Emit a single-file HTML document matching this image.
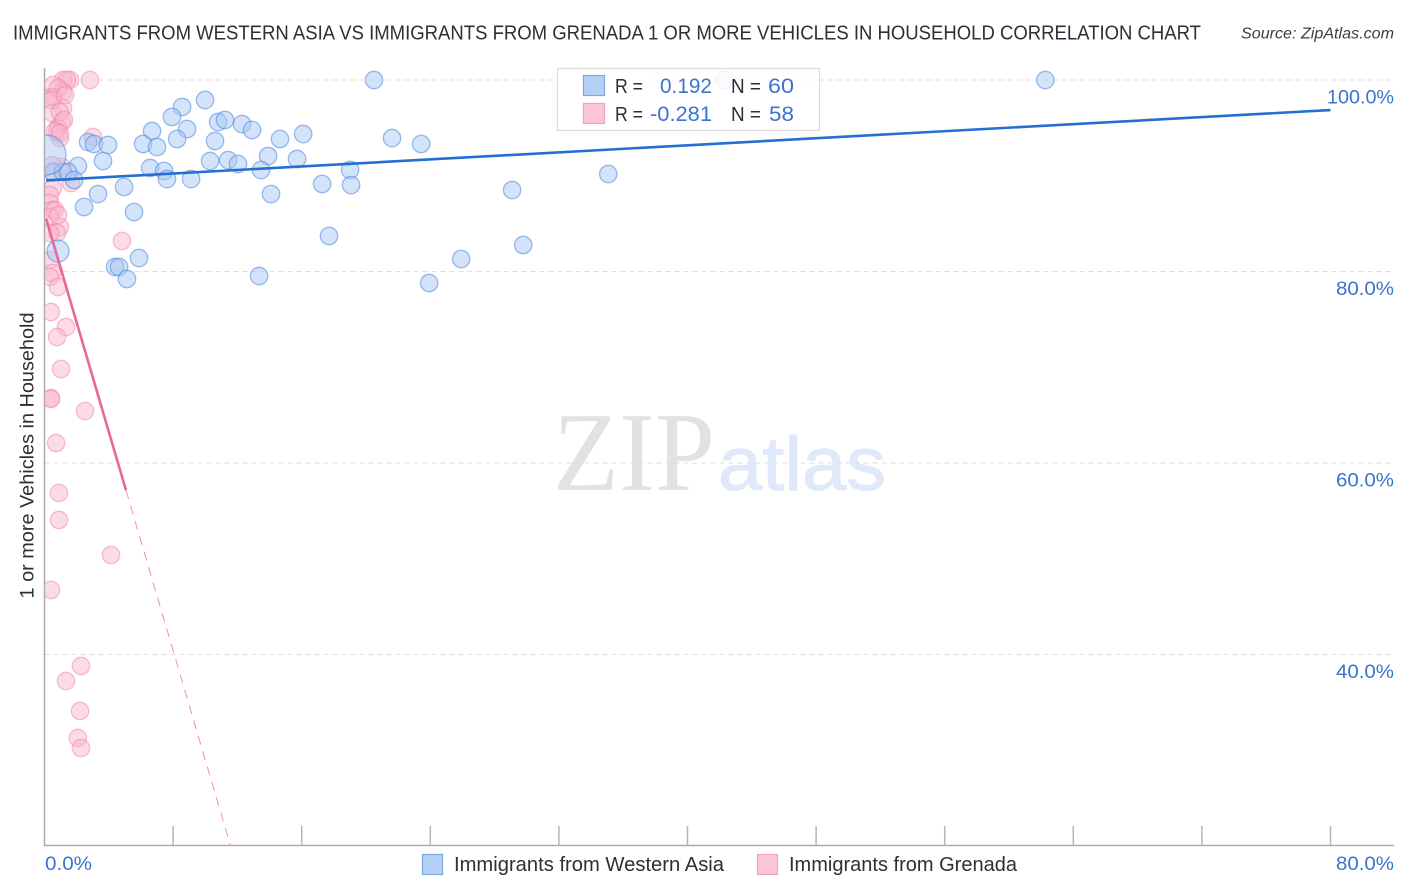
<!DOCTYPE html>
<html lang="en">
<head>
<meta charset="utf-8">
<title>Immigrants from Western Asia vs Immigrants from Grenada correlation chart</title>
<style>
html,body{margin:0;padding:0;background:#fff;}
svg{display:block;font-family:"Liberation Sans",sans-serif;}
</style>
</head>
<body>
<svg id="chart" width="1406" height="892" viewBox="0 0 1406 892" xmlns="http://www.w3.org/2000/svg">
  <defs>
    <clipPath id="plot-clip"><rect x="45" y="60" width="1349" height="785"/></clipPath>
  </defs>
  <rect width="1406" height="892" fill="#fff"/>
  <text x="13" y="39.5" font-size="20" fill="#2b2f38" textLength="1188" lengthAdjust="spacingAndGlyphs">IMMIGRANTS FROM WESTERN ASIA VS IMMIGRANTS FROM GRENADA 1 OR MORE VEHICLES IN HOUSEHOLD CORRELATION CHART</text>
  <text x="1241" y="38.5" font-size="15.5" font-style="italic" fill="#3a3d45" textLength="153" lengthAdjust="spacingAndGlyphs">Source: ZipAtlas.com</text>
  <g id="watermark">
    <text x="553" y="490" font-family="'Liberation Serif',serif" font-size="112" fill="#e2e2e2" textLength="162" lengthAdjust="spacingAndGlyphs">ZIP</text>
    <text x="718" y="490" font-size="76" fill="#dfe9f9" stroke="#dfe9f9" stroke-width="1" textLength="168" lengthAdjust="spacingAndGlyphs">atlas</text>
  </g>
  <g id="grid"></g>
  <g id="axes"></g>
  <g id="points" clip-path="url(#plot-clip)"></g>
  <g id="trends" clip-path="url(#plot-clip)"></g>
  <text transform="translate(33.5,455.5) rotate(-90)" text-anchor="middle" font-size="19.5" fill="#2b2f38" textLength="286" lengthAdjust="spacingAndGlyphs">1 or more Vehicles in Household</text>
  <g id="top-legend">
    <rect x="557.5" y="68.5" width="262" height="62" fill="#fff" fill-opacity="0.85" stroke="#dcdcdc" stroke-width="1.2"/>
    <rect x="583.5" y="75.5" width="21" height="20" fill="#b5d0f5" stroke="#7ea6e0" stroke-width="1.2"/>
    <rect x="583.5" y="103.5" width="21" height="20" fill="#fdc6d8" stroke="#f2a0bb" stroke-width="1.2"/>
    <text x="615" y="93" font-size="20" fill="#2b2f38" textLength="28" lengthAdjust="spacingAndGlyphs">R =</text>
    <text x="660" y="93" font-size="21" fill="#3b73d1" textLength="52" lengthAdjust="spacingAndGlyphs">0.192</text>
    <text x="731" y="93" font-size="20" fill="#2b2f38" textLength="30" lengthAdjust="spacingAndGlyphs">N =</text>
    <text x="768" y="93" font-size="21" fill="#3b73d1" textLength="26" lengthAdjust="spacingAndGlyphs">60</text>
    <text x="615" y="121" font-size="20" fill="#2b2f38" textLength="28" lengthAdjust="spacingAndGlyphs">R =</text>
    <text x="650" y="121" font-size="21" fill="#3b73d1" textLength="62" lengthAdjust="spacingAndGlyphs">-0.281</text>
    <text x="731" y="121" font-size="20" fill="#2b2f38" textLength="30" lengthAdjust="spacingAndGlyphs">N =</text>
    <text x="769" y="121" font-size="21" fill="#3b73d1" textLength="25" lengthAdjust="spacingAndGlyphs">58</text>
  </g>
  <g id="bottom-legend">
    <g>
      <rect x="422.5" y="854.5" width="20" height="20" fill="#b5d0f5" stroke="#7ea6e0" stroke-width="1.2"/>
      <text x="454" y="871" font-size="20" fill="#2b2f38" textLength="270" lengthAdjust="spacingAndGlyphs">Immigrants from Western Asia</text>
    </g>
    <g>
      <rect x="757.5" y="854.5" width="20" height="20" fill="#fdc6d8" stroke="#f2a0bb" stroke-width="1.2"/>
      <text x="789" y="871" font-size="20" fill="#2b2f38" textLength="228" lengthAdjust="spacingAndGlyphs">Immigrants from Grenada</text>
    </g>
  </g>
</svg>
<script>
var xTickValues = [0, 8, 16, 24, 32, 40, 48, 56, 64, 72, 80];
var yGridValues = [100, 80, 60, 40];
var yTickLabels = ["100.0%", "80.0%", "60.0%", "40.0%"];
var xEndLabels = ["0.0%", "80.0%"];

var blueX = [20.5,62.26,42.35,9.99,8.56,7.93,10.8,11.23,12.29,12.91,6.69,8.87,8.25,6.13,7.0,10.61,2.71,3.08,3.95,14.65,16.09,21.62,23.43,13.91,15.71,10.3,11.42,12.04,13.47,3.64,2.08,6.57,7.44,7.62,9.12,19.01,17.27,19.07,29.09,35.07,0.53,1.15,1.46,1.84,4.95,3.33,2.46,5.57,14.09,17.7,29.78,25.92,5.88,4.39,4.64,5.13,13.35,23.93,0.84,0.09];
var blueY = [100,100,100,97.91,97.18,96.14,95.61,95.82,95.4,94.78,94.67,94.88,93.84,93.32,93.0,93.63,93.52,93.32,93.21,93.84,94.36,93.94,93.32,92.06,91.75,91.54,91.64,91.23,90.6,91.54,91.02,90.81,90.5,89.66,89.66,90.6,89.14,89.03,88.51,90.18,90.39,90.39,90.39,89.56,88.83,88.09,86.74,86.21,88.09,83.71,82.77,81.31,81.41,80.47,80.47,79.22,79.53,78.8,82.14,92.17];
var blueWeight = [1,1,1,1,1,1,1,1,1,1,1,1,1,1,1,1,1,1,1,1,1,1,1,1,1,1,1,1,1,1,1,1,1,1,1,1,1,1,1,1,1,1,1,1,1,1,1,1,1,1,1,1,1,1,1,1,1,1,1.6,5.3];

var pinkX = [2.83,1.59,1.15,1.4,0.53,1.15,0.59,0.47,1.15,0.47,1.09,0.84,0.78,0.96,3.02,1.09,0.53,1.65,0.53,0.34,0.34,0.47,0.65,0.34,0.96,0.78,0.34,4.82,0.34,0.47,0.34,0.84,0.4,1.34,0.78,1.03,2.52,0.4,0.4,0.72,0.9,0.9,4.14,0.4,2.27,1.34,2.21,2.08,2.27,0.84,0.47,1.28,0.96,1.21,0.65,0.96,0.47,0.84];
var pinkY = [100,100,100,100,99.48,98.75,98.22,98.22,97.08,96.55,95.61,94.99,94.57,93.94,94.05,90.91,90.39,89.24,88.72,87.99,87.15,86.42,86.42,85.69,84.65,84.02,84.02,83.19,81.2,79.84,79.43,78.38,75.77,74.2,73.16,69.82,65.43,66.79,66.68,62.09,56.87,54.05,50.39,46.74,38.8,37.23,34.1,31.28,30.23,99.16,97.91,98.43,96.66,95.82,94.67,94.46,91.12,85.9];

var blueTrendIntercept = 89.5;
var blueTrendSlope = 0.092;
var blueTrendEnd = 80;
var pinkTrendIntercept = 86.1;
var pinkTrendSlope = -5.71;
var pinkSolidEnd = 5.07;
var pinkDashedEnd = 11.6;

var SVGNS = "http://www.w3.org/2000/svg";
function xScale(v) { return 44.5 + v * (1330.5 - 44.5) / 80; }
function yScale(v) { return 80 + (100 - v) * (654.5 - 80) / 60; }
function make(tag, parent, attrs) {
  var el = document.createElementNS(SVGNS, tag);
  for (var k in attrs) { el.setAttribute(k, attrs[k]); }
  parent.appendChild(el);
  return el;
}
var gridG = document.getElementById("grid");
var axesG = document.getElementById("axes");
var pointsG = document.getElementById("points");
var trendsG = document.getElementById("trends");

yGridValues.forEach(function (v, i) {
  var line = make("line", gridG, {x1: 44.5, x2: 1394, y1: yScale(v), y2: yScale(v), stroke: "#dedede", "stroke-width": 1, "stroke-dasharray": "5 4"});
  
  
  var label = make("text", axesG, {x: 1394, y: yScale(v) + 23.5, "text-anchor": "end", "font-size": 19, fill: "#3b73d1"});
  
  
  label.textContent = yTickLabels[i];
  label.setAttribute("textLength", i === 0 ? 67 : 58);
  label.setAttribute("lengthAdjust", "spacingAndGlyphs");
});

var yAxisLine = make("line", axesG, {x1: 44.5, x2: 44.5, y1: 68, y2: 846, stroke: "#ababab", "stroke-width": 1.5});


var xAxisLine = make("line", axesG, {x1: 44, x2: 1394, y1: 845.5, y2: 845.5, stroke: "#ababab", "stroke-width": 1.5});



xTickValues.forEach(function (v) {
  if (v === 0) { return; }
  var tick = make("line", axesG, {x1: xScale(v), x2: xScale(v), y1: 826, y2: 845.5, stroke: "#b5b5b5", "stroke-width": 1.5});
  
  
});

var xLabelStart = make("text", axesG, {x: 45, y: 870, "font-size": 19, fill: "#3b73d1", textLength: 47, lengthAdjust: "spacingAndGlyphs"});


xLabelStart.textContent = xEndLabels[0];
var xLabelEnd = make("text", axesG, {x: 1394, y: 870, "text-anchor": "end", "font-size": 19, fill: "#3b73d1", textLength: 58, lengthAdjust: "spacingAndGlyphs"});


xLabelEnd.textContent = xEndLabels[1];

pinkX.forEach(function (v, i) {
  var c = make("circle", pointsG, {cx: xScale(v), cy: yScale(pinkY[i]), r: 8.7, fill: "#fab6cd", "fill-opacity": 0.5, stroke: "#ec7ba3", "stroke-opacity": 0.45, "stroke-width": 1.3});
  
  
});
blueX.forEach(function (v, i) {
  var c = make("circle", pointsG, {cx: xScale(v), cy: yScale(blueY[i]), r: 8.7 * Math.sqrt(blueWeight[i]), fill: "#a8c8f4", "fill-opacity": 0.5, stroke: "#4a86dc", "stroke-opacity": 0.55, "stroke-width": 1.3});
  
  
});

function blueTrend(x) { return blueTrendIntercept + blueTrendSlope * x; }
function pinkTrend(x) { return pinkTrendIntercept + pinkTrendSlope * x; }

var blueLine = make("line", trendsG, {x1: xScale(0.1), y1: yScale(blueTrend(0.1)), x2: xScale(blueTrendEnd), y2: yScale(blueTrend(blueTrendEnd)), stroke: "#2470d2", "stroke-width": 2.6});


var pinkLine = make("line", trendsG, {x1: xScale(0.1), y1: yScale(pinkTrend(0.1)), x2: xScale(pinkSolidEnd), y2: yScale(pinkTrend(pinkSolidEnd)), stroke: "#e8689a", "stroke-width": 2.6});


var pinkDash = make("line", trendsG, {x1: xScale(pinkSolidEnd), y1: yScale(pinkTrend(pinkSolidEnd)), x2: xScale(pinkDashedEnd), y2: yScale(pinkTrend(pinkDashedEnd)), stroke: "#ee8fb2", "stroke-width": 1, "stroke-dasharray": "9 7"});


</script>
</body>
</html>
